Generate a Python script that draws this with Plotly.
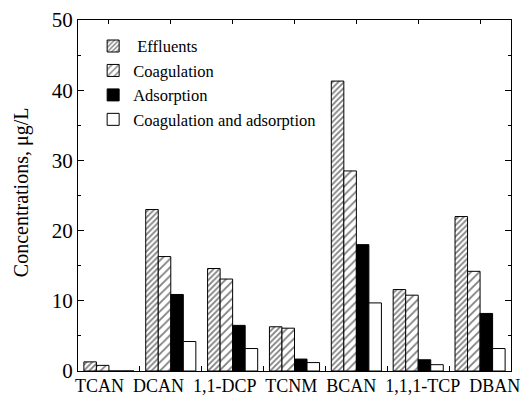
import plotly.graph_objects as go

# DBP concentrations (µg/L) after each treatment step
compounds = ["TCAN", "DCAN", "1,1-DCP", "TCNM", "BCAN", "1,1,1-TCP", "DBAN"]
effluents = [1.3, 23.0, 14.6, 6.3, 41.3, 11.6, 22.0]
coagulation = [0.8, 16.3, 13.1, 6.1, 28.5, 10.8, 14.2]
adsorption = [0.0, 10.9, 6.5, 1.7, 18.0, 1.6, 8.2]
coag_adsorption = [0.0, 4.2, 3.2, 1.2, 9.7, 0.9, 3.2]

y_ticks = [0, 10, 20, 30, 40, 50]
y_title = "Concentrations, μg/L"

FONT = "Liberation Serif"

series = [
    ("\u00a0Effluents", effluents, dict(shape="/", size=4, solidity=0.45, fgcolor="black", bgcolor="white"), "white"),
    ("Coagulation", coagulation, dict(shape="/", size=6, solidity=0.3, fgcolor="black", bgcolor="white"), "white"),
    ("Adsorption", adsorption, None, "black"),
    ("Coagulation and adsorption", coag_adsorption, None, "white"),
]

fig = go.Figure()
for name, vals, pattern, color in series:
    marker = dict(color=color, line=dict(color="black", width=1))
    if pattern:
        marker["pattern"] = pattern
    fig.add_trace(go.Bar(x=compounds, y=vals, name=name, marker=marker))

# invisible trace so the top axis is drawn
fig.add_trace(go.Scatter(x=compounds, y=[None] * len(compounds), xaxis="x2",
                         showlegend=False, hoverinfo="skip"))

# category names written as one line of text under the axis
category_line = "\u00a0 ".join(compounds)

fig.update_layout(
    width=524, height=403,
    margin=dict(l=78, r=13, t=20, b=32, autoexpand=False),
    paper_bgcolor="white", plot_bgcolor="white",
    font=dict(family=FONT, color="black", size=19),
    barmode="group", bargap=0.19, bargroupgap=0.0,
    xaxis=dict(
        type="category", categoryorder="array", categoryarray=compounds,
        range=[-0.5, 6.5], tickson="boundaries", ticks="inside", ticklen=5,
        tickcolor="black", showline=True, linecolor="black", linewidth=1.2,
        showgrid=False, showticklabels=False, automargin=False,
    ),
    xaxis2=dict(
        type="category", categoryorder="array", categoryarray=compounds,
        overlaying="x", side="top", range=[-0.5, 6.5], ticks="inside", ticklen=4,
        tickcolor="black", showline=True, linecolor="black", linewidth=1.2,
        showticklabels=False, showgrid=False,
    ),
    yaxis=dict(
        range=[0, 50], tickvals=y_ticks, ticks="inside", ticklen=6,
        tickcolor="black", showline=True, linecolor="black", linewidth=1.2,
        mirror="ticks", showgrid=False, zeroline=False, automargin=False,
        minor=dict(dtick=5, ticks="inside", ticklen=3, tickcolor="black", showgrid=False),
        tickfont=dict(size=21, family=FONT),
    ),
    legend=dict(
        x=0.035, y=0.975, xanchor="left", yanchor="top",
        bgcolor="rgba(0,0,0,0)", font=dict(size=16.5, family=FONT),
        tracegroupgap=0, itemwidth=30,
    ),
    annotations=[
        dict(
            text=category_line, xref="paper", yref="paper", x=0.507, y=-0.043,
            xanchor="center", yanchor="middle", showarrow=False,
            font=dict(size=18, family=FONT, color="black"),
        ),
        dict(
            text=y_title, xref="paper", yref="paper", x=-0.129, y=0.51,
            xanchor="center", yanchor="middle", textangle=-90, showarrow=False,
            font=dict(size=20, family=FONT, color="black"),
        ),
    ],
)

fig.write_html("out.html")
